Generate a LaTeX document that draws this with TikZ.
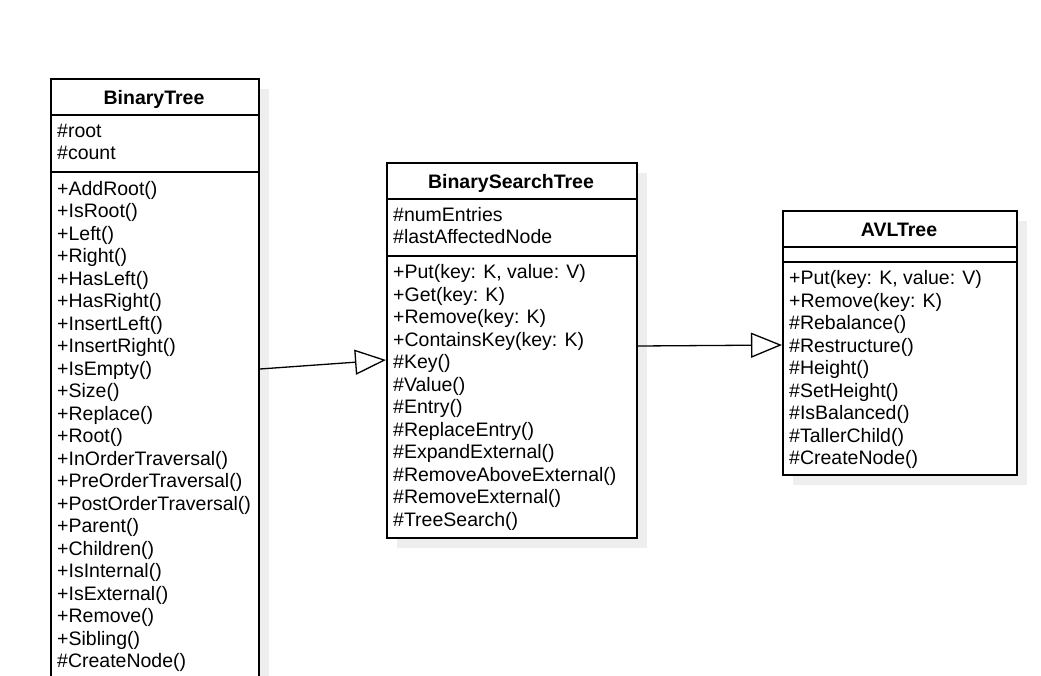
\documentclass[tikz,border=0pt]{standalone}
\usepackage{fontspec}
\setmainfont{Liberation Sans}
\usetikzlibrary{arrows.meta,shadows}

\definecolor{shadowgray}{RGB}{238,238,238}

\tikzset{
  classbox/.style={draw, fill=white, line width=1.7pt, inner sep=0pt, anchor=north west,
    drop shadow={shadow xshift=10pt, shadow yshift=-10pt, fill=shadowgray, opacity=1}},
  classname/.style={anchor=base, inner sep=0pt, font=\fontsize{19.5}{22.5}\selectfont\bfseries},
  member/.style={anchor=base west, inner sep=0pt},
  divider/.style={line width=1.5pt},
  inherit/.style={line width=1.3pt, -{Triangle[open, length=31pt, width=25pt, fill=white]}}
}

\begin{document}
\begin{tikzpicture}[x=1pt, y=-1pt, font=\fontsize{19.5}{22.5}\selectfont]
\def\lh{22.5}

\clip (0,0) rectangle (1041,675);
\fill[white] (0,0) rectangle (1041,675);

% BinaryTree

\node[classbox, minimum width=208pt, minimum height=640pt] (bt) at (50,78) {};
\node[classname] (bt-name) at (154,104) {BinaryTree};
\draw[divider] (50,115) -- (258,115);
\draw[divider] (50,172) -- (258,172);
\foreach \m [count=\i] in {\#root,\#count}
  \node[member] (bt-a\i) at (57,{137+(\i-1)*\lh}) {\m};
\foreach \m [count=\i] in {+AddRoot(),+IsRoot(),+Left(),+Right(),+HasLeft(),+HasRight(),
  +InsertLeft(),+InsertRight(),+IsEmpty(),+Size(),+Replace(),+Root(),+InOrderTraversal(),
  +PreOrderTraversal(),+PostOrderTraversal(),+Parent(),+Children(),+IsInternal(),
  +IsExternal(),+Remove(),+Sibling(),\#CreateNode()}
  \node[member] (bt-m\i) at (57,{195+(\i-1)*\lh}) {\m};

% BinarySearchTree

\node[classbox, minimum width=250pt, minimum height=375pt] (bst) at (386,162) {};
\node[classname] (bst-name) at (511,188) {BinarySearchTree};
\draw[divider] (386,199) -- (636,199);
\draw[divider] (386,256) -- (636,256);
\foreach \m [count=\i] in {\#numEntries,\#lastAffectedNode}
  \node[member] (bst-a\i) at (393,{221+(\i-1)*\lh}) {\m};
\foreach \m [count=\i] in {{+Put(key: K, value: V)},+Get(key: K),+Remove(key: K),
  +ContainsKey(key: K),\#Key(),\#Value(),\#Entry(),\#ReplaceEntry(),\#ExpandExternal(),
  \#RemoveAboveExternal(),\#RemoveExternal(),\#TreeSearch()}
  \node[member] (bst-m\i) at (393,{278.5+(\i-1)*\lh}) {\m};

% AVLTree

\node[classbox, minimum width=234pt, minimum height=264pt] (avl) at (782,210) {};
\node[classname] (avl-name) at (899,236) {AVLTree};
\draw[divider] (782,247) -- (1016,247);
\draw[divider] (782,262) -- (1016,262);
\foreach \m [count=\i] in {{+Put(key: K, value: V)},+Remove(key: K),\#Rebalance(),
  \#Restructure(),\#Height(),\#SetHeight(),\#IsBalanced(),\#TallerChild(),\#CreateNode()}
  \node[member] (avl-m\i) at (789,{284.5+(\i-1)*\lh}) {\m};

% Generalisation arrows

\coordinate (bt-out) at (260,369);
\coordinate (bst-in) at (386,360);
\coordinate (bst-out) at (638,346);
\coordinate (avl-in) at (782,345);
\draw[inherit] (bt-out) -- (bst-in);
\draw[inherit] (bst-out) -- (avl-in);

\end{tikzpicture}
\end{document}
